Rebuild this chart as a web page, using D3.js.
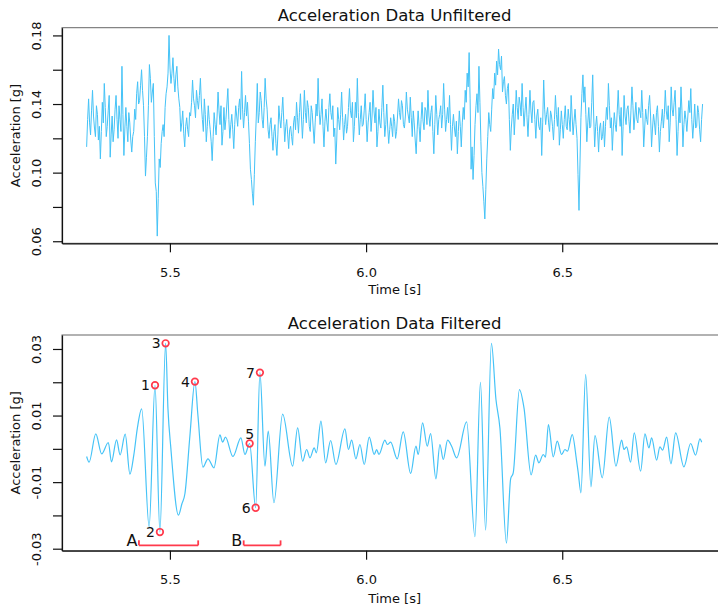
<!DOCTYPE html>
<html>
<head>
<meta charset="utf-8">
<script src="https://cdn.jsdelivr.net/npm/d3@7/dist/d3.min.js"></script>
<style>
  html, body { margin: 0; padding: 0; background: #fff; }
  svg { display: block; font-family: "DejaVu Sans", Verdana, sans-serif; }
</style>
</head>
<body>
<svg id="chart" width="718" height="607"></svg>
<script>
// ---------------- DATA ----------------
// Unfiltered acceleration [g], sampled every rawDt seconds from rawStart
const rawStart = 5.2877;
const rawDt = 0.0025;
const rawValues = [
  0.115,0.131,0.143,0.129,0.122,0.136,0.148,0.133,0.126,0.121,
  0.139,0.134,0.119,0.127,0.108,0.124,0.141,0.129,0.152,0.138,
  0.121,0.127,0.136,0.145,0.109,0.122,0.133,0.118,0.125,0.137,
  0.145,0.131,0.120,0.139,0.131,0.124,0.162,0.134,0.110,0.126,
  0.138,0.127,0.118,0.135,0.129,0.119,0.112,0.121,0.124,0.137,
  0.131,0.146,0.153,0.140,0.142,0.151,0.160,0.148,0.139,0.121,
  0.098,0.109,0.121,0.139,0.163,0.155,0.141,0.147,0.152,0.121,
  0.094,0.089,0.063,0.085,0.108,0.103,0.117,0.124,0.128,0.121,
  0.138,0.146,0.150,0.158,0.180,0.161,0.152,0.158,0.167,0.155,
  0.147,0.157,0.162,0.150,0.143,0.138,0.124,0.129,0.136,0.123,
  0.115,0.127,0.132,0.125,0.121,0.135,0.133,0.141,0.154,0.143,
  0.139,0.132,0.148,0.142,0.137,0.145,0.155,0.140,0.131,0.124,
  0.143,0.134,0.118,0.127,0.139,0.131,0.125,0.118,0.107,0.121,
  0.135,0.128,0.122,0.133,0.147,0.136,0.128,0.139,0.116,0.124,
  0.138,0.125,0.131,0.140,0.149,0.131,0.120,0.128,0.134,0.125,
  0.114,0.128,0.139,0.133,0.127,0.138,0.143,0.131,0.159,0.137,
  0.126,0.135,0.145,0.133,0.141,0.130,0.117,0.102,0.096,0.088,
  0.081,0.099,0.118,0.133,0.152,0.129,0.135,0.147,0.142,0.131,
  0.126,0.138,0.155,0.143,0.137,0.125,0.120,0.128,0.132,0.121,
  0.113,0.124,0.128,0.117,0.110,0.122,0.139,0.131,0.126,0.135,
  0.144,0.130,0.118,0.127,0.131,0.122,0.114,0.125,0.127,0.121,
  0.116,0.129,0.133,0.125,0.141,0.132,0.123,0.135,0.146,0.133,
  0.120,0.131,0.148,0.135,0.129,0.142,0.138,0.127,0.124,0.139,
  0.135,0.126,0.117,0.129,0.140,0.133,0.155,0.137,0.128,0.134,
  0.143,0.127,0.115,0.130,0.137,0.129,0.124,0.138,0.146,0.135,
  0.131,0.139,0.121,0.126,0.105,0.119,0.138,0.131,0.125,0.134,
  0.147,0.132,0.119,0.128,0.134,0.123,0.127,0.138,0.149,0.136,
  0.132,0.141,0.118,0.127,0.141,0.132,0.155,0.135,0.122,0.131,
  0.139,0.127,0.128,0.136,0.146,0.131,0.118,0.129,0.135,0.141,
  0.124,0.133,0.148,0.136,0.129,0.138,0.115,0.124,0.137,0.129,
  0.126,0.138,0.151,0.135,0.121,0.128,0.140,0.126,0.117,0.125,
  0.132,0.127,0.121,0.134,0.130,0.120,0.124,0.133,0.143,0.135,
  0.131,0.142,0.139,0.128,0.126,0.133,0.147,0.137,0.133,0.129,
  0.144,0.132,0.121,0.136,0.129,0.119,0.111,0.125,0.136,0.127,
  0.118,0.131,0.141,0.130,0.125,0.138,0.136,0.128,0.148,0.133,
  0.127,0.135,0.139,0.124,0.111,0.128,0.145,0.134,0.122,0.131,
  0.134,0.139,0.126,0.134,0.152,0.137,0.124,0.131,0.138,0.129,
  0.145,0.128,0.113,0.127,0.134,0.126,0.121,0.130,0.111,0.124,
  0.136,0.127,0.115,0.129,0.138,0.131,0.148,0.141,0.158,0.150,
  0.170,0.143,0.102,0.115,0.096,0.110,0.128,0.139,0.146,0.135,
  0.162,0.141,0.118,0.100,0.092,0.083,0.073,0.090,0.108,0.121,
  0.135,0.128,0.124,0.137,0.149,0.143,0.158,0.151,0.165,0.157,
  0.172,0.163,0.160,0.168,0.147,0.153,0.156,0.145,0.140,0.149,
  0.152,0.131,0.113,0.126,0.134,0.140,0.122,0.133,0.148,0.138,
  0.131,0.144,0.140,0.133,0.152,0.138,0.127,0.136,0.144,0.132,
  0.121,0.134,0.148,0.136,0.129,0.141,0.142,0.131,0.120,0.133,
  0.137,0.127,0.125,0.132,0.110,0.129,0.154,0.137,0.128,0.134,
  0.138,0.129,0.124,0.136,0.133,0.127,0.119,0.131,0.145,0.134,
  0.127,0.138,0.116,0.125,0.136,0.128,0.120,0.131,0.139,0.127,
  0.125,0.137,0.131,0.124,0.145,0.133,0.122,0.130,0.137,0.128,
  0.120,0.099,0.078,0.105,0.132,0.146,0.157,0.141,0.150,0.134,
  0.118,0.129,0.138,0.126,0.127,0.141,0.157,0.133,0.115,0.127,
  0.133,0.124,0.112,0.126,0.129,0.119,0.121,0.130,0.115,0.127,
  0.138,0.131,0.152,0.139,0.126,0.132,0.113,0.126,0.135,0.128,
  0.124,0.136,0.148,0.134,0.127,0.138,0.110,0.127,0.145,0.133,
  0.128,0.137,0.139,0.130,0.123,0.136,0.150,0.139,0.125,0.133,
  0.141,0.131,0.129,0.138,0.136,0.132,0.148,0.135,0.115,0.126,
  0.137,0.131,0.128,0.139,0.145,0.133,0.115,0.126,0.134,0.129,
  0.122,0.135,0.139,0.127,0.112,0.124,0.130,0.137,0.126,0.134,
  0.148,0.136,0.131,0.139,0.118,0.129,0.150,0.137,0.133,0.141,
  0.148,0.131,0.110,0.124,0.138,0.129,0.150,0.136,0.115,0.128,
  0.136,0.131,0.124,0.133,0.142,0.135,0.149,0.131,0.120,0.129,
  0.140,0.126,0.127,0.139,0.135,0.125,0.118,0.131,0.140
];

// Filtered acceleration [g] (time [s], value [g])
const filtTime = [
  5.2877,5.294,5.311,5.326,5.343,5.351,5.364,5.373,5.386,5.398,
  5.408,5.417,5.428,5.447,5.462,5.4745,5.489,5.495,5.5025,5.5217,
  5.5306,5.5382,5.551,5.5637,5.5714,5.5841,5.5969,5.6122,5.6275,5.6343,
  5.6415,5.6606,5.681,5.6912,5.7032,5.7185,5.7294,5.7422,5.7506,5.7651,
  5.7873,5.8128,5.8255,5.8383,5.8485,5.8569,5.8678,5.8734,5.8849,5.8969,
  5.9096,5.9231,5.9461,5.955,5.9632,5.9741,5.9843,5.9953,6.008,6.0208,
  6.0269,6.0327,6.048,6.0544,6.0626,6.0794,6.0947,6.1136,6.1271,6.1329,
  6.1441,6.1559,6.1645,6.178,6.1882,6.1967,6.2079,6.2181,6.2308,6.2563,
  6.2775,6.2915,6.3047,6.3195,6.331,6.3412,6.3578,6.3685,6.3751,6.3909,
  6.4024,6.4207,6.4322,6.4406,6.4516,6.4572,6.4648,6.4771,6.4873,6.4985,
  6.5069,6.5133,6.5255,6.5367,6.5408,6.5477,6.5597,6.5732,6.5834,6.602,
  6.6198,6.6369,6.6514,6.6573,6.6641,6.6743,6.6835,6.6998,6.7108,6.721,
  6.7279,6.7406,6.749,6.7559,6.7661,6.7771,6.7891,6.8102,6.8273,6.84,
  6.851,6.8554
];
const filtValues = [
  -0.0023,-0.0040,0.0045,-0.0015,0.0019,-0.0039,0.0027,-0.0018,0.0044,-0.0076,
  -0.0018,0.0062,0.0120,-0.0234,0.0191,-0.0250,0.0317,0.0120,0.0000,-0.0199,
  -0.0165,-0.0135,0.0040,0.0202,0.0100,-0.0055,-0.0030,-0.0057,0.0042,0.0020,
  0.0035,-0.0023,0.0033,-0.0017,0.0016,-0.0177,0.0229,-0.0052,0.0053,-0.0162,
  0.0104,-0.0052,0.0063,-0.0037,-0.0002,-0.0027,0.0003,-0.0012,0.0083,-0.0042,
  0.0025,-0.0047,0.0060,-0.0002,0.0026,-0.0030,0.0013,-0.0047,0.0035,-0.0017,
  -0.0002,-0.0017,0.0026,0.0013,0.0020,-0.0030,0.0051,-0.0074,0.0008,-0.0017,
  0.0078,0.0008,0.0046,-0.0090,0.0013,-0.0032,0.0026,0.0008,-0.0027,0.0081,
  -0.0264,0.0200,-0.0244,0.0317,0.0149,0.0062,-0.0283,-0.0090,-0.0072,0.0178,
  0.0124,-0.0078,-0.0019,-0.0042,-0.0017,-0.0025,0.0073,-0.0024,0.0023,-0.0017,
  -0.0002,-0.0007,0.0043,-0.0037,-0.0072,-0.0132,0.0224,-0.0114,0.0040,-0.0087,
  0.0095,-0.0052,0.0026,-0.0002,0.0006,-0.0040,0.0048,-0.0067,0.0045,0.0003,
  0.0033,-0.0034,0.0006,-0.0004,0.0035,-0.0045,0.0048,-0.0054,0.0016,-0.0019,
  0.0030,0.0020
];

// Marked points on the filtered signal (labelPos: 2 = left, 3 = above)
const markLabels = ["1","2","3","4","5","6","7"];
const markTime   = [5.462, 5.4745, 5.489, 5.5637, 5.7032, 5.7185, 5.7294];
const markValue  = [0.0191, -0.0250, 0.0317, 0.0202, 0.0016, -0.0177, 0.0229];
const markPos    = [2, 2, 2, 2, 3, 2, 2];

// Interval brackets
const bracketLabels = ["A", "B"];
const bracketStart  = [5.421, 5.688];
const bracketEnd    = [5.572, 5.782];
const bracketLevel  = -0.029;

// Axis ticks
const xTicks = [5.5, 6.0, 6.5];
const yTicksTop = [0.06, 0.08, 0.10, 0.12, 0.14, 0.16, 0.18];
const yLabelsTop = [0.06, 0.10, 0.14, 0.18];
const yTicksBottom = [-0.03, -0.02, -0.01, 0.00, 0.01, 0.02, 0.03];
const yLabelsBottom = [-0.03, -0.01, 0.01, 0.03];

const titles = ["Acceleration Data Unfiltered", "Acceleration Data Filtered"];
const xTitle = "Time [s]";
const yTitle = "Acceleration [g]";

// ---------------- LAYOUT ----------------
const lineColor = "#45c3f7";
const markColor = "#ff3a4c";
const svg = d3.select("#chart");

const plotLeft = 62, plotRight = 727.2;
const panels = [
  { top: 27.7, bottom: 243.3, domain: [0.0588, 0.1845], ticks: yTicksTop, labels: yLabelsTop, title: titles[0] },
  { top: 335.0, bottom: 550.7, domain: [-0.0306, 0.0342], ticks: yTicksBottom, labels: yLabelsBottom, title: titles[1] }
];

const x = d3.scaleLinear().domain([5.2249, 6.9205]).range([plotLeft, plotRight]);
const rawTime = rawValues.map((_, i) => rawStart + i * rawDt);

panels.forEach((p, pi) => {
  const y = d3.scaleLinear().domain(p.domain).range([p.bottom, p.top]);
  p.y = y;
  const g = svg.append("g");

  g.append("rect")
    .attr("x", plotLeft).attr("y", p.top)
    .attr("width", plotRight - plotLeft).attr("height", p.bottom - p.top)
    .attr("fill", "none").attr("stroke", "#666").attr("stroke-width", 1);

  const xa = g.append("g").attr("transform", `translate(0,${p.bottom})`)
    .call(d3.axisBottom(x).tickValues(xTicks).tickFormat(d3.format(".1f")).tickSizeInner(9).tickSizeOuter(0));
  xa.select(".domain").attr("stroke", "#111").attr("stroke-width", 1.2);
  xa.selectAll(".tick line").attr("stroke", "#111").attr("stroke-width", 1.2);
  xa.selectAll(".tick text").attr("y", 33.6).attr("dy", null)
    .attr("font-size", 13).attr("fill", "#111").attr("font-family", "DejaVu Sans");

  const fmt = d3.format(".2f");
  const ya = g.append("g").attr("transform", `translate(${plotLeft},0)`)
    .call(d3.axisLeft(y).tickValues(p.ticks)
      .tickFormat(d => p.labels.some(l => Math.abs(l - d) < 1e-9) ? fmt(d).replace("\u2212", "-") : "")
      .tickSizeInner(9).tickSizeOuter(0));
  ya.select(".domain").attr("stroke", "#111").attr("stroke-width", 1.2);
  ya.selectAll(".tick line").attr("stroke", "#111").attr("stroke-width", 1.2);
  ya.selectAll(".tick text")
    .attr("x", 0).attr("y", -21.3).attr("dy", null)
    .attr("transform", "rotate(-90)")
    .attr("text-anchor", "middle")
    .attr("font-size", 13).attr("fill", "#111").attr("font-family", "DejaVu Sans");

  g.append("text").attr("x", (plotLeft + plotRight) / 2).attr("y", p.top - 6.3)
    .attr("text-anchor", "middle").attr("font-size", 16.5).attr("fill", "#111")
    .text(p.title);
  g.append("text").attr("x", (plotLeft + plotRight) / 2).attr("y", p.bottom + (pi === 0 ? 51 : 52.5))
    .attr("text-anchor", "middle").attr("font-size", 13).attr("fill", "#111")
    .text(xTitle);
  g.append("text")
    .attr("transform", `translate(19.5,${(p.top + p.bottom) / 2}) rotate(-90)`)
    .attr("text-anchor", "middle").attr("font-size", 13).attr("fill", "#111")
    .text(yTitle);
});

// unfiltered line
const yTop = panels[0].y;
svg.append("path")
  .datum(rawValues.map((v, i) => [rawTime[i], v]))
  .attr("fill", "none").attr("stroke", lineColor).attr("stroke-width", 1.0)
  .attr("stroke-linejoin", "round")
  .attr("d", d3.line().x(d => x(d[0])).y(d => yTop(d[1])));

// filtered line
const yBot = panels[1].y;
svg.append("path")
  .datum(filtValues.map((v, i) => [filtTime[i], v]))
  .attr("fill", "none").attr("stroke", lineColor).attr("stroke-width", 1.2)
  .attr("d", d3.line().curve(d3.curveMonotoneX).x(d => x(d[0])).y(d => yBot(d[1])));

// brackets
bracketLabels.forEach((lab, i) => {
  const x0 = x(bracketStart[i]), x1 = x(bracketEnd[i]), yb = yBot(bracketLevel);
  const bg = svg.append("g").attr("stroke", markColor).attr("stroke-width", 1.8).attr("fill", "none");
  bg.append("line").attr("x1", x0).attr("x2", x1).attr("y1", yb).attr("y2", yb);
  bg.append("line").attr("x1", x0).attr("x2", x0).attr("y1", yb).attr("y2", yb - 5);
  bg.append("line").attr("x1", x1).attr("x2", x1).attr("y1", yb).attr("y2", yb - 5);
  svg.append("text").attr("x", x0 - 1.5).attr("y", yb + 1)
    .attr("text-anchor", "end").attr("font-size", 16).attr("fill", "#111").text(lab);
});

// marked points
markLabels.forEach((lab, i) => {
  const cx = x(markTime[i]), cy = yBot(markValue[i]);
  svg.append("circle").attr("cx", cx).attr("cy", cy).attr("r", 3.3)
    .attr("fill", "none").attr("stroke", markColor).attr("stroke-width", 1.7);
  const t = svg.append("text").attr("font-size", 14).attr("fill", "#111").text(lab);
  if (markPos[i] === 3) {
    t.attr("x", cx).attr("y", cy - 5).attr("text-anchor", "middle");
  } else {
    t.attr("x", cx - 5).attr("y", cy).attr("dy", "0.36em").attr("text-anchor", "end");
  }
});
</script>
</body>
</html>
